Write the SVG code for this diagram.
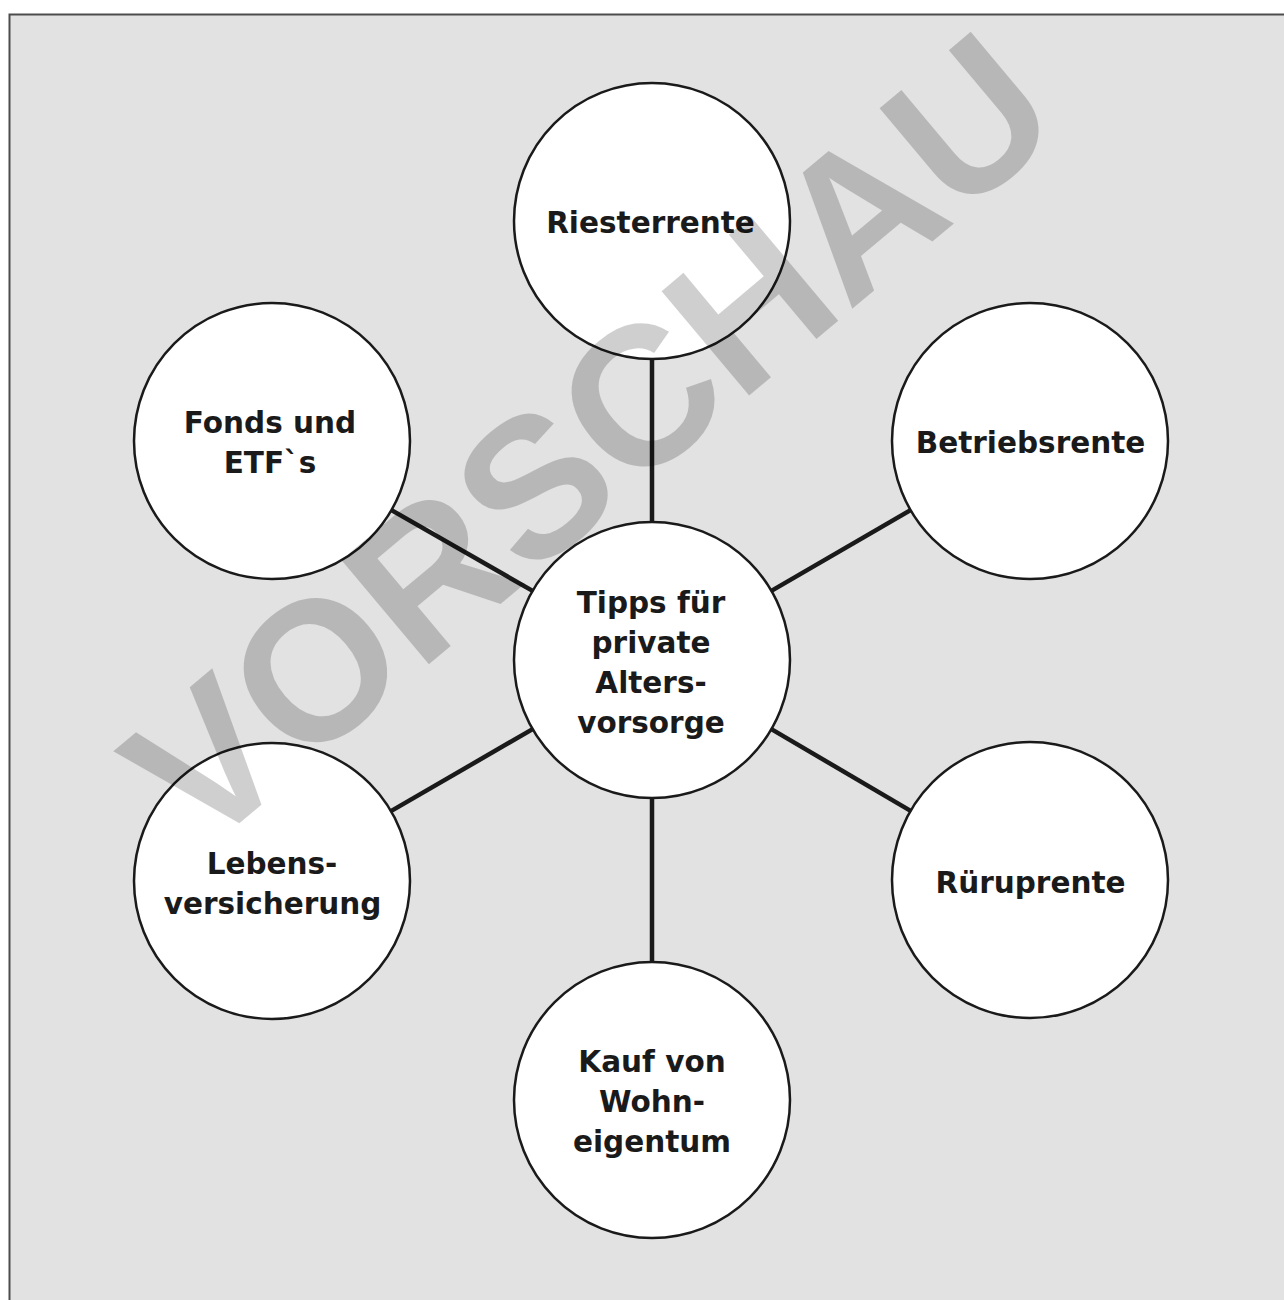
<svg xmlns="http://www.w3.org/2000/svg" width="1284" height="1300" viewBox="0 0 1284 1300">
<style>
.bg{fill:#e2e2e2}
.frame{stroke:#4d4d4d;stroke-width:2;fill:none}
.node{fill:#ffffff;stroke:#1a1a1a;stroke-width:2.5}
.lbl{font-family:"DejaVu Sans","Liberation Sans",sans-serif;font-weight:700;font-size:29.5px;fill:#1a1a1a;text-anchor:middle}
.conn{stroke:#1a1a1a;stroke-width:4.5;stroke-linecap:butt}
.wm{font-family:"Liberation Sans",Arial,sans-serif;font-weight:700;font-size:198px;fill:#000;fill-opacity:0.19;text-anchor:middle}
</style>
<rect x="0" y="0" width="1284" height="1300" fill="#ffffff"/>
<rect class="bg" x="10" y="15" width="1274" height="1285"/>
<path class="frame" d="M9.5,1300 V14.5 H1284"/>
<g id="connectors">
<line class="conn" x1="652" y1="523" x2="652" y2="359"/>
<line class="conn" x1="652" y1="797" x2="652" y2="962"/>
<line class="conn" x1="770.5" y1="591.4" x2="911.5" y2="509.6"/>
<line class="conn" x1="770.5" y1="728.6" x2="911.5" y2="811.4"/>
<line class="conn" x1="533.5" y1="591.4" x2="390.5" y2="509.6"/>
<line class="conn" x1="533.5" y1="728.6" x2="390.5" y2="811.4"/>
</g>
<g id="node-riester">
<circle class="node" cx="652" cy="221" r="138"/>
<text class="lbl" x="650.5" y="233">Riesterrente</text>
</g>
<g id="node-center">
<circle class="node" cx="652" cy="660" r="138"/>
<text class="lbl" x="651" y="613">Tipps für</text>
<text class="lbl" x="651" y="653">private</text>
<text class="lbl" x="651" y="693">Alters-</text>
<text class="lbl" x="651" y="733">vorsorge</text>
</g>
<g id="node-betrieb">
<circle class="node" cx="1030" cy="441" r="138"/>
<text class="lbl" x="1030.5" y="453">Betriebsrente</text>
</g>
<g id="node-rurup">
<circle class="node" cx="1030" cy="880" r="138"/>
<text class="lbl" x="1030.5" y="893">Rüruprente</text>
</g>
<g id="node-fonds">
<circle class="node" cx="272" cy="441" r="138"/>
<text class="lbl" x="270" y="433">Fonds und</text>
<text class="lbl" x="270" y="473">ETF`s</text>
</g>
<g id="node-leben">
<circle class="node" cx="272" cy="881" r="138"/>
<text class="lbl" x="272" y="874">Lebens-</text>
<text class="lbl" x="272.5" y="914">versicherung</text>
</g>
<g id="node-kauf">
<circle class="node" cx="652" cy="1100" r="138"/>
<text class="lbl" x="652" y="1072">Kauf von</text>
<text class="lbl" x="652" y="1112">Wohn-</text>
<text class="lbl" x="652" y="1152">eigentum</text>
</g>
<text class="wm" transform="translate(588,438) rotate(-40)" x="0" y="71">VORSCHAU</text>
</svg>
